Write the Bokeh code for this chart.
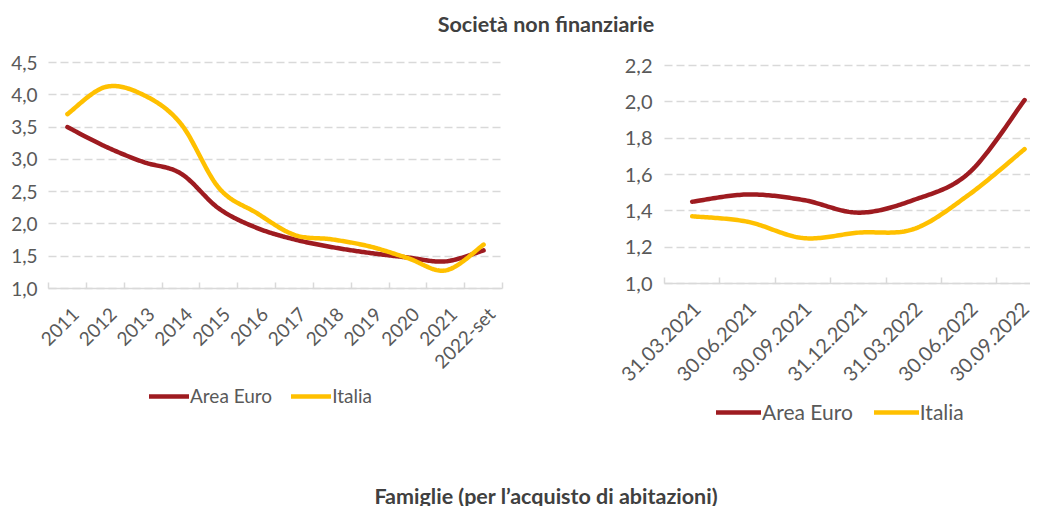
import numpy as np
from bokeh.plotting import figure
from bokeh.models import FixedTicker, Legend, LegendItem, Div, Range1d
from bokeh.layouts import column, row
from bokeh.embed import file_html
from bokeh.resources import INLINE

# ---------------- data ----------------
years = ["2011", "2012", "2013", "2014", "2015", "2016", "2017", "2018",
         "2019", "2020", "2021", "2022-set"]
euro_annual = [3.50, 3.20, 2.96, 2.78, 2.24, 1.94, 1.76, 1.64, 1.55, 1.48, 1.42, 1.59]
italia_annual = [3.70, 4.12, 4.00, 3.55, 2.56, 2.17, 1.83, 1.76, 1.65, 1.47, 1.28, 1.68]
left_y_ticks = [1.0, 1.5, 2.0, 2.5, 3.0, 3.5, 4.0, 4.5]
left_y_labels = ["1,0", "1,5", "2,0", "2,5", "3,0", "3,5", "4,0", "4,5"]

quarters = ["31.03.2021", "30.06.2021", "30.09.2021", "31.12.2021",
            "31.03.2022", "30.06.2022", "30.09.2022"]
euro_q = [1.45, 1.49, 1.46, 1.39, 1.46, 1.61, 2.01]
italia_q = [1.37, 1.34, 1.25, 1.28, 1.30, 1.49, 1.74]
right_y_ticks = [1.0, 1.2, 1.4, 1.6, 1.8, 2.0, 2.2]
right_y_labels = ["1,0", "1,2", "1,4", "1,6", "1,8", "2,0", "2,2"]

series_names = ["Area Euro", "Italia"]
RED = "#9E1B20"
YELLOW = "#FFC000"
GRID = "#D9D9D9"
LABEL = "#595959"
FONT = "Lato"

FIG_H = 400   # both figures: the frame fills the whole canvas; axes are pinned inside it


def smooth(vals, n=30):
    """Excel-like smoothed line through the points (Bezier, tension 1/6)."""
    x = np.arange(len(vals)) + 0.5
    pts = np.column_stack([x, np.asarray(vals, dtype=float)])
    P = np.vstack([pts[0], pts, pts[-1]])
    out = []
    t = np.linspace(0, 1, n)[:, None]
    for i in range(len(pts) - 1):
        p0, p1, p2, p3 = P[i], P[i + 1], P[i + 2], P[i + 3]
        c1 = p1 + (p2 - p0) / 6.0
        c2 = p2 - (p3 - p1) / 6.0
        seg = ((1 - t) ** 3) * p1 + 3 * ((1 - t) ** 2) * t * c1 + 3 * (1 - t) * t ** 2 * c2 + t ** 3 * p2
        out.append(seg if i == 0 else seg[1:])
    s = np.vstack(out)
    return s[:, 0], s[:, 1]


def make_chart(width, cats, yticks, ylabels, x_px, cat_px, y_top_px, ppu,
               font_size, standoff_x, standoff_y, shift, n_cols):
    """x_px: screen offset of category 0 edge inside the canvas; y_top_px: offset of last tick."""
    x0 = -x_px / cat_px
    x1 = x0 + width / cat_px
    y1 = yticks[-1] + y_top_px / ppu
    y0 = y1 - FIG_H / ppu
    p = figure(width=width, height=FIG_H, x_range=Range1d(x0, x1), y_range=Range1d(y0, y1),
               output_backend="svg", toolbar_location=None,
               min_border_left=0, min_border_right=0, min_border_top=0, min_border_bottom=0)
    n = len(cats)
    centers = [min(i + 0.5 + shift, x1 - 0.005) for i in range(n)]
    bounds = [float(i) for i in range(n + 1)]
    ax = p.xaxis[0]
    ax.ticker = FixedTicker(ticks=centers, minor_ticks=bounds)
    ax.major_label_overrides = {c: lab for c, lab in zip(centers, cats)}
    ax.bounds = (0, n_cols)
    ax.major_tick_line_color = None
    ax.major_tick_in = 0
    ax.major_tick_out = 0
    ax.minor_tick_line_color = GRID
    ax.minor_tick_line_width = 1.5
    ax.minor_tick_in = 6
    ax.minor_tick_out = 0
    ax.axis_line_color = GRID
    ax.axis_line_width = 1.5
    ax.major_label_orientation = np.pi / 4
    ax.major_label_standoff = standoff_x
    ax.major_label_text_font = FONT
    ax.major_label_text_font_size = font_size
    ax.major_label_text_color = LABEL
    ax.fixed_location = yticks[0]

    ay = p.yaxis[0]
    ay.ticker = FixedTicker(ticks=yticks, minor_ticks=[])
    ay.major_label_overrides = {v: lab for v, lab in zip(yticks, ylabels)}
    ay.axis_line_color = None
    ay.major_tick_line_color = None
    ay.minor_tick_line_color = None
    ay.major_tick_in = 0
    ay.major_tick_out = 0
    ay.major_label_standoff = standoff_y
    ay.major_label_text_font = FONT
    ay.major_label_text_font_size = font_size
    ay.major_label_text_color = LABEL
    ay.fixed_location = 0

    p.xgrid.visible = False
    g = p.ygrid[0]
    g.grid_line_color = GRID
    g.grid_line_dash = "8 4"
    g.grid_line_width = 1.3
    try:
        g.cross_bounds = (0, n_cols)
    except AttributeError:
        g.visible = False
        p.segment(x0=[0] * len(yticks), x1=[n_cols] * len(yticks), y0=yticks, y1=yticks,
                  line_color=GRID, line_dash="8 4", line_width=1.3, level="underlay")
    p.outline_line_color = None
    p.background_fill_color = "white"
    p.border_fill_color = "white"
    return p


def add_series(p, euro, italia, lw):
    xr, yr = smooth(euro)
    xi, yi = smooth(italia)
    r1 = p.line(xr, yr, line_color=RED, line_width=lw, line_cap="round", line_join="round")
    r2 = p.line(xi, yi, line_color=YELLOW, line_width=lw, line_cap="round", line_join="round")
    return r1, r2


def add_legend(p, r1, r2, x, y, glyph_w, spacing, font_size):
    leg = Legend(items=[LegendItem(label=series_names[0], renderers=[r1]),
                        LegendItem(label=series_names[1], renderers=[r2])],
                 location=(x, y), orientation="horizontal",
                 glyph_width=glyph_w, glyph_height=20, label_height=20,
                 label_standoff=1, spacing=spacing, padding=0, margin=0,
                 border_line_color=None, background_fill_alpha=0,
                 label_text_font=FONT, label_text_font_size=font_size,
                 label_text_color=LABEL)
    p.add_layout(leg, "center")


# ---------------- left chart ----------------
left = make_chart(582, years, left_y_ticks, left_y_labels,
                  x_px=48, cat_px=454 / 12, y_top_px=22, ppu=226 / 3.5,
                  font_size="19px", standoff_x=22, standoff_y=11, shift=0.2, n_cols=12)
lr1, lr2 = add_series(left, euro_annual, italia_annual, 4.5)
add_legend(left, lr1, lr2, 149, 33, 40, 19, "19px")

# ---------------- right chart ----------------
right = make_chart(448, quarters, right_y_ticks, right_y_labels,
                   x_px=82, cat_px=55.4, y_top_px=25, ppu=218 / 1.2,
                   font_size="20px", standoff_x=22, standoff_y=12, shift=0.09, n_cols=7)
rr1, rr2 = add_series(right, euro_q, italia_q, 4.5)
add_legend(right, rr1, rr2, 134, 16, 45, 21, "21px")

# ---------------- titles ----------------
title_style = ('width:1030px;text-align:center;position:relative;left:26px;'
               'font-family:Lato;font-weight:bold;font-size:21.5px;color:#404040;')
top_title = Div(text='<div style="' + title_style + 'line-height:21px;padding-top:9px;">'
                     'Società non finanziarie</div>',
                width=1030, height=30)
bottom_title = Div(text='<div style="' + title_style + 'line-height:14px;padding-top:44px;">'
                        'Famiglie (per l\u2019acquisto di abitazioni)</div>',
                   width=1030, height=60)

layout = column(top_title, row(left, right), bottom_title)

with open("out.html", "w") as f:
    f.write(file_html(layout, INLINE))
